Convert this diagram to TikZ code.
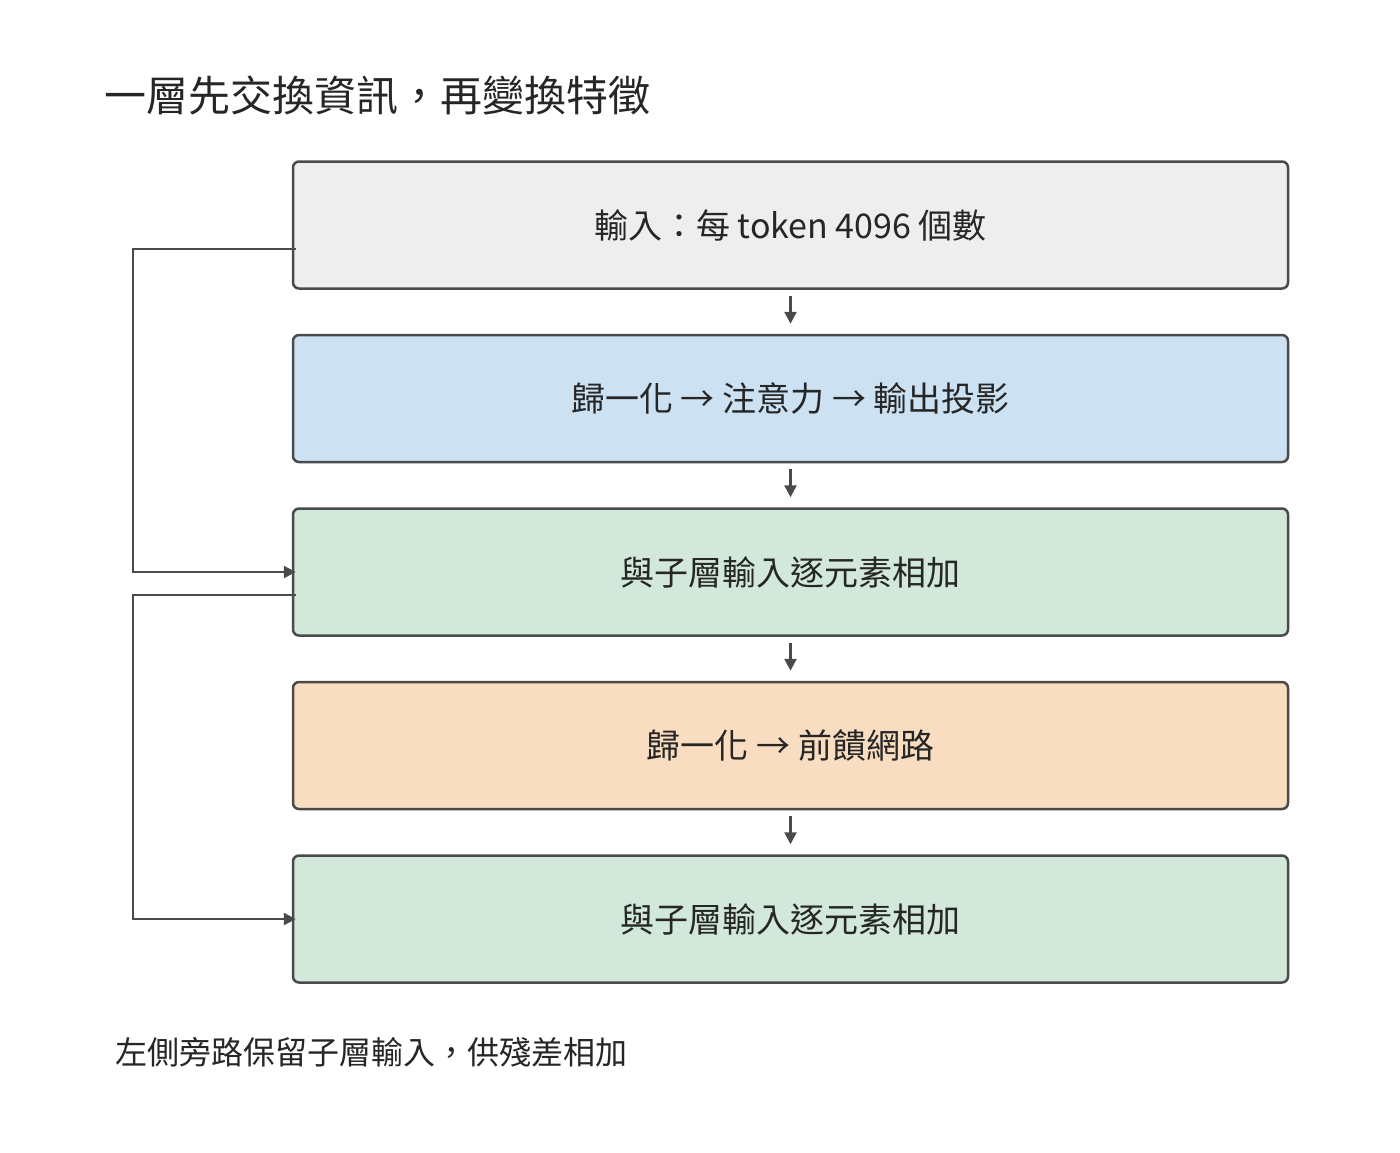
\documentclass[tikz,border=0pt]{standalone}
\usepackage{fontspec}
\setmainfont{Noto Sans CJK TC}
\usetikzlibrary{positioning,arrows.meta}
\definecolor{edge}{HTML}{4A4A4A}
\definecolor{grayfill}{HTML}{EEEEEE}
\definecolor{bluefill}{HTML}{CCE2F3}
\definecolor{greenfill}{HTML}{D1E8DB}
\definecolor{orangefill}{HTML}{F8DDC0}
\tikzset{
  stage/.style={draw=edge,line width=2.5pt,rounded corners=6pt,minimum width=995pt,minimum height=127pt,
    font=\fontsize{34}{40}\selectfont,text=black!85},
  flow/.style={-{Triangle[length=12pt,width=12pt]},draw=edge,line width=2.5pt},
}
\begin{document}
\begin{tikzpicture}[x=1pt,y=-1pt]
\useasboundingbox (0,0) rectangle (1400,1152);
\node[anchor=west,font=\fontsize{42}{48}\selectfont,text=black!85] (title) at (101,95) {一層先交換資訊，再變換特徵};
\node[stage,fill=grayfill] (input) at (790.5,225) {輸入：每 token 4096 個數};
\node[stage,fill=bluefill,below=44pt of input] (attn) {歸一化 → 注意力 → 輸出投影};
\node[stage,fill=greenfill,below=44pt of attn] (add1) {與子層輸入逐元素相加};
\node[stage,fill=orangefill,below=44pt of add1] (ffn) {歸一化 → 前饋網路};
\node[stage,fill=greenfill,below=44pt of ffn] (add2) {與子層輸入逐元素相加};
\node[anchor=west,font=\fontsize{32}{38}\selectfont,text=black!85] (note) at (112,1052) {左側旁路保留子層輸入，供殘差相加};
% main flow
\foreach \a/\b in {input/attn,attn/add1,add1/ffn,ffn/add2}
  \draw[flow,shorten <=6pt,shorten >=10pt] (\a.south) -- (\b.north);
% bypasses
\coordinate (out1) at ([yshift=-24pt]input.west);
\coordinate (in1) at ([xshift=4pt]add1.west);
\coordinate (out2) at ([yshift=-23pt,xshift=4pt]add1.west);
\coordinate (in2) at ([xshift=4pt]add2.west);
\draw[flow] ([xshift=4pt]out1) -| (133,0 |- in1) -- (in1);
\draw[flow] (out2) -| (133,0 |- in2) -- (in2);
\end{tikzpicture}
\end{document}
